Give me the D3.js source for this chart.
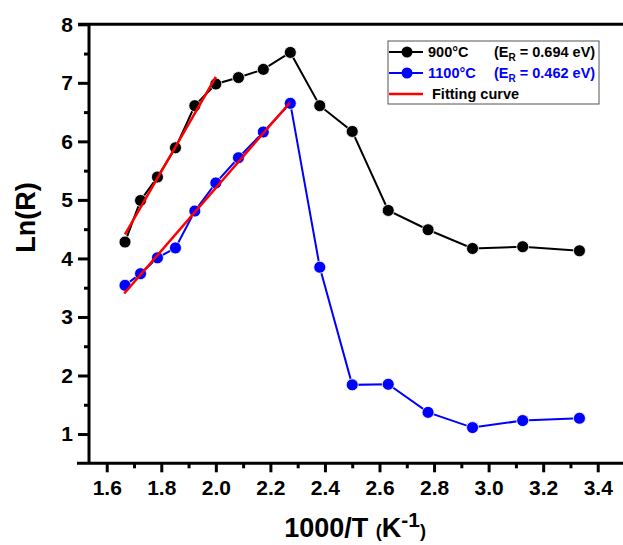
<!DOCTYPE html>
<html>
<head>
<meta charset="utf-8">
<script src="https://cdn.jsdelivr.net/npm/d3@7"></script>
<style>
  body { margin: 0; background: #fff; }
  text { font-family: "Liberation Sans", Arial, sans-serif; font-weight: bold; }
</style>
</head>
<body>
<div id="chart"></div>
<script>
// Data: 1000/T values and Ln(R) for both samples
const invT = [1.667, 1.724, 1.786, 1.852, 1.923, 2.0, 2.083, 2.174, 2.273,
  2.381, 2.5, 2.632, 2.778, 2.941, 3.125, 3.333];
const ln900 = [4.28, 4.99, 5.39, 5.89, 6.61, 6.98, 7.09, 7.23, 7.52,
  6.61, 6.17, 4.82, 4.49, 4.17, 4.2, 4.13];
const ln1100 = [3.54, 3.74, 4.01, 4.18, 4.81, 5.29, 5.72, 6.16, 6.65,
  3.85, 1.84, 1.85, 1.37, 1.11, 1.23, 1.27];
// fitting lines (endpoints)
const fit900 = [[1.667, 4.41], [2.0, 7.1]];
const fit1100 = [[1.664, 3.4], [2.271, 6.66]];

const xTicks = [1.6, 1.8, 2.0, 2.2, 2.4, 2.6, 2.8, 3.0, 3.2, 3.4];
const xMinor = [1.7, 1.9, 2.1, 2.3, 2.5, 2.7, 2.9, 3.1, 3.3];
const yTicks = [1, 2, 3, 4, 5, 6, 7, 8];
const yMinor = [1.5, 2.5, 3.5, 4.5, 5.5, 6.5, 7.5];

const series = [
  { name: "900°C", er: "0.694", color: "#000000", values: ln900 },
  { name: "1100°C", er: "0.462", color: "#0000ff", values: ln1100 },
];

const dimensions = {
  width: 623,
  height: 545,
  margin: { top: 24.3, left: 89 },
};
dimensions.containerWidth = 536;
dimensions.containerHeight = 439;

const svg = d3
  .select("#chart")
  .append("svg")
  .attr("width", dimensions.width)
  .attr("height", dimensions.height);

const container = svg
  .append("g")
  .attr("transform", `translate(${dimensions.margin.left}, ${dimensions.margin.top})`);

// Scales
const xScale = d3.scaleLinear().domain([1.535, 3.5]).range([0, dimensions.containerWidth]);
const yScale = d3.scaleLinear().domain([0.5, 8]).range([dimensions.containerHeight, 0]);

// Axes
const xAxisG = container
  .append("g")
  .attr("transform", `translate(0, ${dimensions.containerHeight})`)
  .call(d3.axisBottom(xScale).tickValues(xTicks).tickFormat(d3.format(".1f")).tickSize(9).tickPadding(8));
container
  .append("g")
  .attr("transform", `translate(0, ${dimensions.containerHeight})`)
  .call(d3.axisBottom(xScale).tickValues(xMinor).tickFormat("").tickSize(5))
  .classed("minor", true);

const yAxisG = container
  .append("g")
  .call(d3.axisLeft(yScale).tickValues(yTicks).tickFormat(d3.format("d")).tickSize(11).tickPadding(5));
container
  .append("g")
  .call(d3.axisLeft(yScale).tickValues(yMinor).tickFormat("").tickSize(5))
  .classed("minor", true);

container.selectAll(".domain").remove();
container.selectAll(".tick line").attr("stroke", "#000").attr("stroke-width", 3);
xAxisG.selectAll(".tick text").attr("font-size", 21).attr("fill", "#000");
yAxisG.selectAll(".tick text").attr("font-size", 21).attr("fill", "#000");

// Frame lines: left, bottom, top (right side is cut off)
container.append("line")
  .attr("x1", 0).attr("x2", 0).attr("y1", 0).attr("y2", dimensions.containerHeight)
  .attr("stroke", "#000").attr("stroke-width", 3);
container.append("line")
  .attr("x1", -12).attr("x2", dimensions.width).attr("y1", dimensions.containerHeight).attr("y2", dimensions.containerHeight)
  .attr("stroke", "#000").attr("stroke-width", 3);
container.append("line")
  .attr("x1", -11).attr("x2", dimensions.width).attr("y1", 0).attr("y2", 0)
  .attr("stroke", "#000").attr("stroke-width", 3);

// Axis titles
yAxisG.append("text")
  .attr("transform", `translate(${-54}, ${yScale(4.7)}) rotate(-90)`)
  .attr("text-anchor", "middle")
  .attr("font-size", 27)
  .attr("fill", "#000")
  .text("Ln(R)");

const xt = xAxisG.append("text")
  .attr("x", 355 - dimensions.margin.left)
  .attr("y", 537 - dimensions.margin.top - dimensions.containerHeight)
  .attr("text-anchor", "middle")
  .attr("font-size", 27)
  .attr("fill", "#000");
xt.append("tspan").text("1000/T ");
xt.append("tspan").attr("font-size", 18).text("(");
xt.append("tspan").text("K");
xt.append("tspan").attr("font-size", 21).attr("dy", -10).text("-1");
xt.append("tspan").attr("font-size", 18).attr("dy", 10).text(")");

// Lines + markers
const line = d3.line().x((d) => xScale(d[0])).y((d) => yScale(d[1]));

series.forEach((s) => {
  const pts = invT.map((x, i) => [x, s.values[i]]);
  container.append("path")
    .attr("d", line(pts))
    .attr("fill", "none")
    .attr("stroke", s.color)
    .attr("stroke-width", 2);
  container.append("g")
    .selectAll("circle")
    .data(pts)
    .join("circle")
    .attr("cx", (d) => xScale(d[0]))
    .attr("cy", (d) => yScale(d[1]))
    .attr("r", 6)
    .attr("fill", s.color)
    .attr("stroke", "#fff")
    .attr("stroke-width", 0.8);
});

[fit900, fit1100].forEach((f) => {
  container.append("path")
    .attr("d", line(f))
    .attr("fill", "none")
    .attr("stroke", "#ff0000")
    .attr("stroke-width", 2.5);
});

// Legend
const legend = svg.append("g").attr("transform", "translate(388, 41)");
legend.append("rect")
  .attr("width", 211).attr("height", 63)
  .attr("fill", "#fff").attr("stroke", "#555").attr("stroke-width", 1);

series.forEach((s, i) => {
  const y = 11 + i * 21;
  legend.append("line")
    .attr("x1", 1).attr("x2", 35).attr("y1", y).attr("y2", y)
    .attr("stroke", s.color).attr("stroke-width", 2);
  legend.append("circle")
    .attr("cx", 19).attr("cy", y).attr("r", 5.5).attr("fill", s.color);
  legend.append("text")
    .attr("x", 40).attr("y", y + 5)
    .attr("font-size", 14.5).attr("fill", s.color)
    .text(s.name);
  const t = legend.append("text")
    .attr("x", 106).attr("y", y + 5)
    .attr("font-size", 14.5).attr("fill", s.color);
  t.append("tspan").text("(E");
  t.append("tspan").attr("font-size", 10).attr("dy", 4).text("R");
  t.append("tspan").attr("dy", -4).text(` = ${s.er} eV)`);
});
legend.append("line")
  .attr("x1", 1).attr("x2", 35).attr("y1", 53).attr("y2", 53)
  .attr("stroke", "#ff0000").attr("stroke-width", 2.5);
legend.append("text")
  .attr("x", 44).attr("y", 58)
  .attr("font-size", 14.5).attr("fill", "#000")
  .text("Fitting curve");
</script>
</body>
</html>
